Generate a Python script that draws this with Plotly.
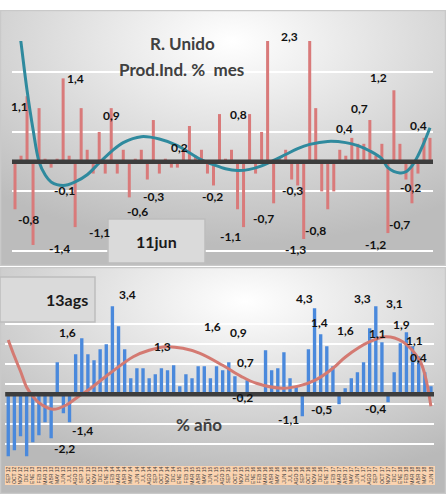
import base64
import plotly.graph_objects as go

W, H = 446, 494

# ---- data ---------------------------------------------------------------
meses = [
    "SEP 12", "OCT 12", "NOV 12", "DIC 12",
    "ENE 13", "FEB 13", "MAR 13", "ABR 13", "MAY 13", "JUN 13", "JUL 13", "AGO 13", "SEP 13", "OCT 13", "NOV 13", "DIC 13",
    "ENE 14", "FEB 14", "MAR 14", "ABR 14", "MAY 14", "JUN 14", "JUL 14", "AGO 14", "SEP 14", "OCT 14", "NOV 14", "DIC 14",
    "ENE 15", "FEB 15", "MAR 15", "ABR 15", "MAY 15", "JUN 15", "JUL 15", "AGO 15", "SEP 15", "OCT 15", "NOV 15", "DIC 15",
    "ENE 16", "FEB 16", "MAR 16", "ABR 16", "MAY 16", "JUN 16", "JUL 16", "AGO 16", "SEP 16", "OCT 16", "NOV 16", "DIC 16",
    "ENE 17", "FEB 17", "MAR 17", "ABR 17", "MAY 17", "JUN 17", "JUL 17", "AGO 17", "SEP 17", "OCT 17", "NOV 17", "DIC 17",
    "ENE 18", "FEB 18", "MAR 18", "ABR 18", "MAY 18", "JUN 18",
]
idx = list(range(len(meses)))

# monthly change, %
var_mes = [
    -0.8, 0.1, 1.1, -1.4, 0.9, 0.05, -0.1, 0.05, 1.4, 0.1,
    -1.1, 0.9, 0.2, -0.2, 0.5, -0.2, 0.9, -0.2, 0.2, -0.6,
    0.05, 0.2, -0.3, 0.7, -0.2, 0.05, -0.1, -0.1, 0.2, 0.6,
    0.1, 0.2, -0.2, -0.4, 0.8, 0.05, 0.2, -0.8, -1.1, 0.8,
    -0.2, 0.5, 2.2, -0.7, 0.05, 0.2, -0.3, -0.4, -1.3, 2.3,
    0.9, -0.5, -0.8, -0.5, 0.2, 0.1, 0.4, 0.3, 0.3, 0.7,
    0.1, 0.3, -1.2, 1.2, 0.3, -0.3, -0.7, -0.2, 0.4, 0.4,
]

# trend of the monthly series (read at selected months)
tend_mes_x = [0, 1, 2, 3, 4, 5, 6, 8, 10, 12, 14, 16, 18, 21, 24, 27, 29, 31, 33, 35,
              37, 39, 41, 43, 45, 47, 49, 52, 55, 57, 59, 61, 62, 64, 65, 66, 67, 68, 69]
tend_mes_y = [2.8, 2.0, 1.2, 0.54, 0.0, -0.22, -0.34, -0.4, -0.34, -0.22, -0.02, 0.17, 0.32, 0.42,
              0.38, 0.27, 0.15, 0.03, -0.05, -0.12, -0.15, -0.13, -0.07, 0.02, 0.12, 0.22, 0.29,
              0.34, 0.32, 0.27, 0.18, 0.05, -0.1, -0.19, -0.17, -0.07, 0.1, 0.32, 0.57]

# year-on-year change, %
var_anual = [
    -3.1, -2.8, -2.1, -3.1, -2.4, -2.05, -1.4, -2.2, 1.6, -0.95,
    -1.4, 2.0, 2.8, 2.0, 1.7, 2.25, 2.5, 4.4, 3.4, 2.25,
    0.8, 1.3, 1.3, 0.8, 1.0, 1.3, 1.2, 1.45, 0.4, 1.0,
    0.8, 1.4, 1.4, 0.8, 1.4, 1.2, 1.6, 0.9, -0.2, 0.7,
    0.1, 0.1, 2.2, 1.2, 1.3, 2.1, 0.8, 0.4, -1.1, 2.25,
    4.3, 3.0, 2.4, 1.4, -0.5, 0.3, 0.8, 1.1, 1.6, 3.3,
    4.4, 2.6, -0.4, 1.1, 2.55, 3.1, 2.4, 1.9, 1.1, 0.4,
]

# trend of the annual series (read at selected months)
tend_anual_x = [0, 1, 2, 3, 4, 5, 7.3, 9.5, 11.4, 13, 16.6, 20.4, 23, 25.8, 28.5, 31.3, 35,
                38, 40.5, 44.8, 47.5, 50.2, 53, 55.1, 59, 61.7, 64.4, 67.1, 68, 69]
tend_anual_y = [2.72, 1.9, 1.15, 0.35, -0.1, -0.42, -0.75, -0.53, -0.12, 0.2, 1.05, 1.88, 2.2,
                2.38, 2.3, 2.05, 1.45, 0.9, 0.55, 0.3, 0.42, 0.72, 1.3, 1.88, 2.63, 2.88, 2.63,
                1.72, 1.0, -0.6]

# labelled months: (month index, label x, label y) in axis units
etiq_mes = [
    (2, -0.95, 1.08), (8, 8.3, 1.56), (16, 14.3, 0.94), (28, 27.3, 0.39), (39, 37.1, 0.95),
    (49, 45.7, 2.27), (56, 56.5, 0.71), (59, 59.1, 1.05), (63, 62.2, 1.58), (69, 68.8, 0.76),
    (0, 0.1, -0.98), (3, 5.4, -1.46), (6, 6.1, -0.49), (10, 12.0, -1.19), (19, 18.3, -0.84),
    (22, 23.0, -0.59), (32, 32.9, -0.59), (38, 35.9, -1.25), (43, 41.3, -0.95), (46, 46.1, -0.49),
    (48, 46.6, -1.48), (52, 52.1, -1.15), (62, 62.1, -1.39), (66, 66.0, -1.06), (67, 67.9, -0.43),
]
etiq_anual = [
    (7, 7.13, -3.19), (10, 10.07, -2.29), (8, 8.0, 2.63), (18, 17.7, 5.0), (25, 25.1, 1.92),
    (36, 33.4, 3.37), (37, 37.6, 2.63), (39, 38.8, 1.12), (38, 38.3, -0.62), (50, 50.0, 4.8),
    (53, 52.6, 3.13), (48, 47.8, -1.75), (54, 53.2, -1.24), (58, 56.8, 2.72), (59, 59.5, 4.8),
    (62, 62.05, -1.2), (63, 62.05, 2.55), (65, 64.7, 4.55), (67, 65.9, 3.5), (68, 68.0, 2.2),
    (69, 68.7, 1.38),
]


def fmt(v):
    return f"{v:.1f}".replace(".", ",")


def px(x):
    return x / W


def py(y):
    return 1 - y / H


# axis geometry
XR = [-0.5, 69.5]
X1_DOM = [px(12), px(433)]
Y1_DOM = [py(252.1), py(40.9)]
Y1_RNG = [-1.52, 2.03]
X2_DOM = [px(5.2), px(434)]
Y2_DOM = [py(464.7), py(304.5)]
Y2_RNG = [-3.52, 4.49]


def to_paper(v, rng, dom):
    return dom[0] + (v - rng[0]) / (rng[1] - rng[0]) * (dom[1] - dom[0])


def panel_bg(w, h, cx, cy, r, c0, c1):
    svg = (
        f'<svg xmlns="http://www.w3.org/2000/svg" width="{w}" height="{h}" viewBox="0 0 {w} {h}">'
        f'<defs><radialGradient id="g" cx="{cx}" cy="{cy}" r="{r}">'
        f'<stop offset="0" stop-color="{c0}"/><stop offset="1" stop-color="{c1}"/>'
        f'</radialGradient></defs>'
        f'<rect x="0.5" y="0.5" width="{w - 1}" height="{h - 1}" fill="url(#g)" stroke="#c9c9c9" stroke-width="1.5"/>'
        f'</svg>'
    )
    return "data:image/svg+xml;base64," + base64.b64encode(svg.encode()).decode()


fig = go.Figure()

fig.add_trace(go.Bar(x=idx, y=var_mes, marker_color="#d97a7a", marker_line_width=0,
                     width=0.5, xaxis="x", yaxis="y"))
fig.add_trace(go.Scatter(x=tend_mes_x, y=tend_mes_y, mode="lines",
                         line=dict(color="#2f8a9e", width=3, shape="spline", smoothing=1.0),
                         xaxis="x", yaxis="y"))
fig.add_trace(go.Bar(x=idx, y=var_anual, marker_color="#4a89dc", marker_line_width=0,
                     width=0.55, xaxis="x2", yaxis="y2"))
fig.add_trace(go.Scatter(x=tend_anual_x, y=tend_anual_y, mode="lines",
                         line=dict(color="#d47a72", width=3, shape="spline", smoothing=1.0),
                         xaxis="x2", yaxis="y2"))

annotations = []
lab_font = dict(family="Lato, sans-serif", size=12, color="#111111")
for i, lx, ly in etiq_mes:
    annotations.append(dict(x=to_paper(lx, XR, X1_DOM), y=to_paper(ly, Y1_RNG, Y1_DOM),
                            xref="paper", yref="paper", text=f"<b>{fmt(var_mes[i])}</b>",
                            showarrow=False, font=lab_font))
for i, lx, ly in etiq_anual:
    annotations.append(dict(x=to_paper(lx, XR, X2_DOM), y=to_paper(ly, Y2_RNG, Y2_DOM),
                            xref="paper", yref="paper", text=f"<b>{fmt(var_anual[i])}</b>",
                            showarrow=False, font=lab_font))

title_font = dict(family="Lato, sans-serif", size=17, color="#404040")
annotations += [
    dict(x=px(182), y=py(31), xref="paper", yref="paper", text="<b>R. Unido</b>",
         showarrow=False, font=title_font),
    dict(x=px(181), y=py(57), xref="paper", yref="paper", text="<b>Prod.Ind. %  mes</b>",
         showarrow=False, font=title_font),
    dict(x=px(199), y=py(437), xref="paper", yref="paper", text="<b>% año</b>",
         showarrow=False, font=title_font),
    dict(x=px(156), y=py(241), xref="paper", yref="paper", text="<b>11jun</b>",
         showarrow=False, font=dict(family="Lato, sans-serif", size=16, color="#1a1a1a")),
    dict(x=px(44), y=py(299), xref="paper", yref="paper", text="<b>13ags</b>",
         showarrow=False, font=dict(family="Lato, sans-serif", size=16, color="#1a1a1a")),
]

shapes = [
    # zero lines
    dict(type="line", xref="x domain", yref="y", x0=0, x1=1, y0=0, y1=0,
         line=dict(color="#3d3d3d", width=4.5), layer="above"),
    dict(type="line", xref="x2 domain", yref="y2", x0=0, x1=1, y0=0, y1=0,
         line=dict(color="#3d3d3d", width=4.5), layer="above"),
    # date boxes
    dict(type="rect", xref="paper", yref="paper", x0=px(108), x1=px(205), y0=py(263), y1=py(219),
         fillcolor="#dadada", line=dict(color="#bdbdbd", width=1.5), layer="above"),
    dict(type="rect", xref="paper", yref="paper", x0=px(0), x1=px(95), y0=py(322), y1=py(277),
         fillcolor="#dadada", line=dict(color="#bdbdbd", width=1.5), layer="above"),
    # band behind the month labels
    dict(type="rect", xref="paper", yref="paper", x0=px(5), x1=px(435), y0=py(485), y1=py(466),
         fillcolor="#fbd3b0", line=dict(width=0), layer="below"),
]

images = [
    dict(source=panel_bg(W, 256, 0.52, 0.12, 0.8, "#ffffff", "#bcbcbc"),
         xref="paper", yref="paper", x=0, y=py(10), sizex=1, sizey=256 / H,
         xanchor="left", yanchor="top", sizing="stretch", layer="below"),
    dict(source=panel_bg(W, 227, 0.55, 0.15, 0.8, "#ffffff", "#b9b9b9"),
         xref="paper", yref="paper", x=0, y=py(267), sizex=1, sizey=227 / H,
         xanchor="left", yanchor="top", sizing="stretch", layer="below"),
]

fig.update_layout(
    width=W, height=H,
    margin=dict(l=0, r=0, t=0, b=0),
    paper_bgcolor="white", plot_bgcolor="rgba(0,0,0,0)",
    showlegend=False, bargap=0.5,
    font=dict(family="Lato, sans-serif"),
    xaxis=dict(domain=X1_DOM, range=XR, showticklabels=False,
               showgrid=False, zeroline=False, anchor="y", fixedrange=True),
    yaxis=dict(domain=Y1_DOM, range=Y1_RNG, tick0=0.5, dtick=1,
               showticklabels=False, gridcolor="white", gridwidth=2, zeroline=False,
               anchor="x", fixedrange=True),
    xaxis2=dict(domain=X2_DOM, range=XR, tickmode="array",
                tickvals=idx, ticktext=meses, tickangle=-90,
                tickfont=dict(family="Liberation Sans, sans-serif", size=5, color="#3a3a3a"),
                showgrid=False, zeroline=False, anchor="y2", ticks="", fixedrange=True),
    yaxis2=dict(domain=Y2_DOM, range=Y2_RNG, tick0=0.5, dtick=1,
                showticklabels=False, gridcolor="white", gridwidth=2, zeroline=False,
                anchor="x2", fixedrange=True),
    annotations=annotations,
    shapes=shapes,
    images=images,
)

fig.write_html("out.html")
